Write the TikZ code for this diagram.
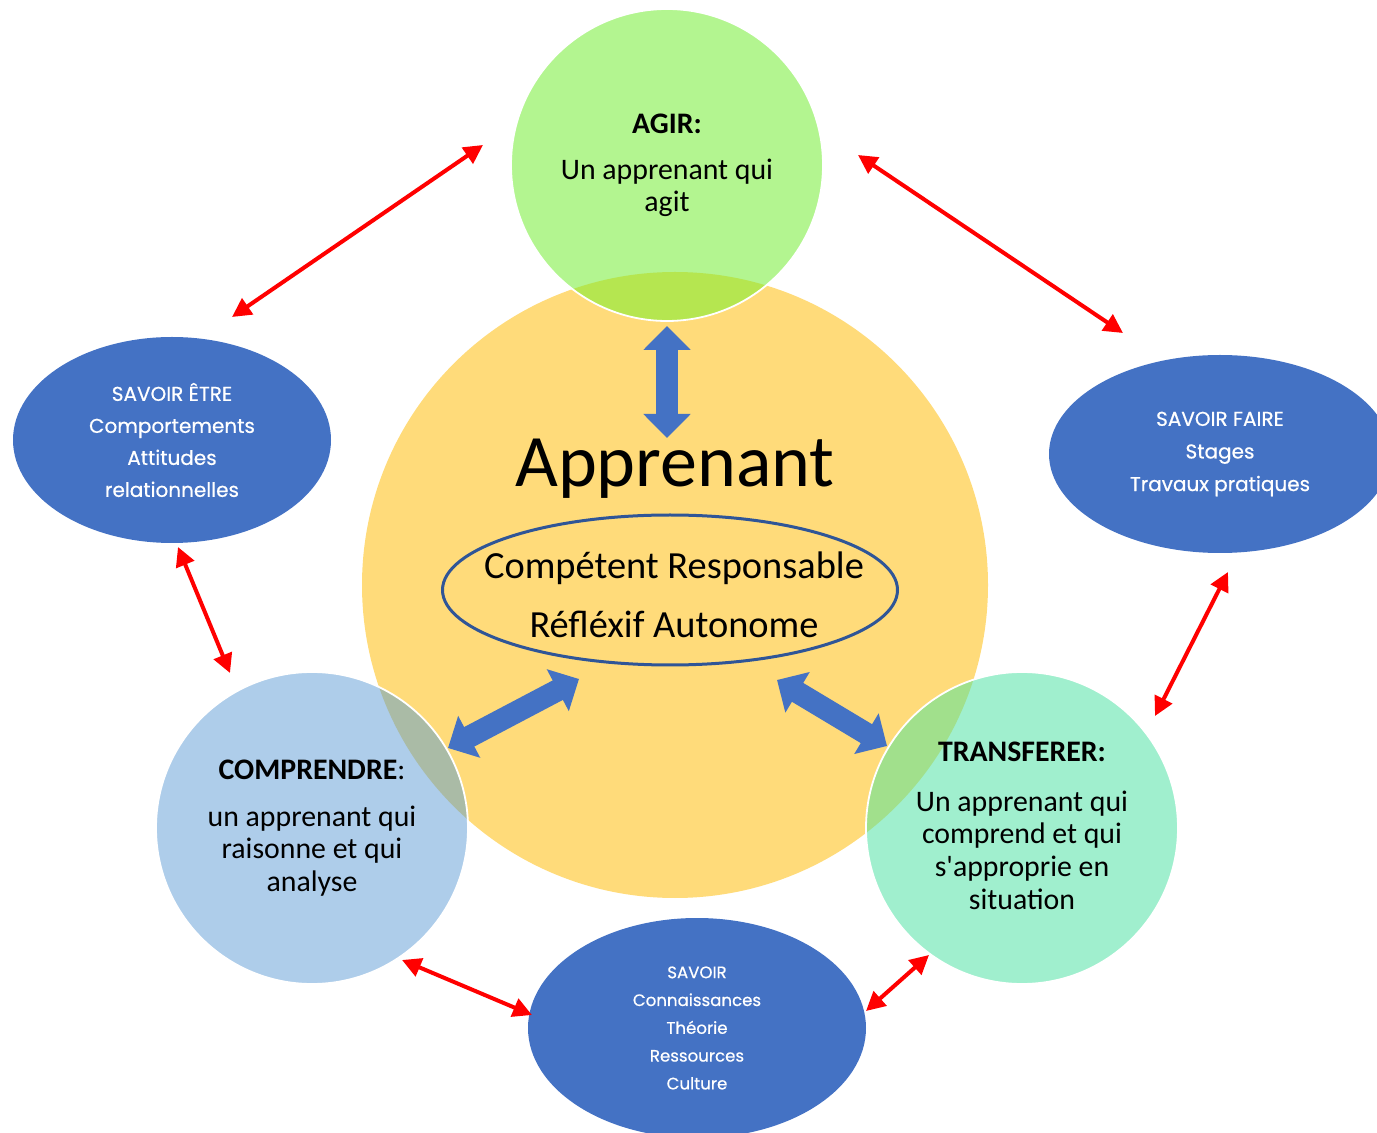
\documentclass[tikz,border=0pt]{standalone}
\usepackage{fontspec}
\setmainfont{Carlito}[Ligatures=TeXOff]
\newfontfamily\comicf{Poppins}[FakeBold=0.6]
\usetikzlibrary{arrows.meta,shapes.geometric}
\definecolor{yel}{HTML}{FFDB7A}
\definecolor{grn}{HTML}{B3F590}
\definecolor{grnov}{HTML}{B5E650}
\definecolor{lblue}{HTML}{AECDEA}
\definecolor{lblueov}{HTML}{AABBA6}
\definecolor{mint}{HTML}{A0EFCE}
\definecolor{mintov}{HTML}{A1E08C}
\definecolor{eblue}{HTML}{4472C4}
\definecolor{ellblue}{HTML}{2F5597}
\definecolor{arrred}{HTML}{FF0000}
\begin{document}
\begin{tikzpicture}[x=0.5pt,y=-0.5pt,
  redarr/.style={draw=arrred, line width=2pt, {Triangle[length=9.5pt,width=9.5pt]}-{Triangle[length=9.5pt,width=9.5pt]}},
  bluearr/.style={draw=eblue, line width=11pt, {Triangle[length=12pt,width=23pt]}-{Triangle[length=12pt,width=23pt]}},
  bigcirc/.style={circle, minimum size=313pt, inner sep=0pt},
  smallcirc/.style={circle, minimum size=156pt, inner sep=0pt},
  savoirell/.style={ellipse, fill=eblue, inner sep=0pt, text=white, align=center},
  ttl/.style={font=\fontsize{14.9}{16}\selectfont\bfseries},
  body/.style={align=center, font=\fontsize{14.9}{16.3}\selectfont}]
\useasboundingbox (0,0) rectangle (1377,1133);
\clip (0,0) rectangle (1377,1133);

% main circles
\node[bigcirc, fill=yel] (yel) at (675,585) {};
\node[smallcirc, fill=grn] (agir) at (667,165) {};
\node[smallcirc, fill=lblue] (comp) at (312,828) {};
\node[smallcirc, fill=mint] (trans) at (1022,828) {};

% overlaps
\begin{scope}
  \clip (agir.center) circle[radius=78pt];
  \fill[grnov] (yel.center) circle[radius=156.5pt];
\end{scope}
\begin{scope}
  \clip (comp.center) circle[radius=78pt];
  \fill[lblueov] (yel.center) circle[radius=156.5pt];
\end{scope}
\begin{scope}
  \clip (trans.center) circle[radius=78pt];
  \fill[mintov] (yel.center) circle[radius=156.5pt];
\end{scope}
\draw[white, line width=0.9pt] (agir.center) circle[radius=78pt];
\draw[white, line width=0.9pt] (comp.center) circle[radius=78pt];
\draw[white, line width=0.9pt] (trans.center) circle[radius=78pt];

% savoir ellipses
\node[savoirell, minimum width=159pt, minimum height=103pt,
  font=\comicf\fontsize{10}{16}\selectfont] (etre) at (172,440)
  {SAVOIR ÊTRE\\Comportements\\Attitudes\\relationnelles};
\node[savoirell, minimum width=171pt, minimum height=99pt,
  font=\comicf\fontsize{10}{16.3}\selectfont] (faire) at (1220,454)
  {SAVOIR FAIRE\\Stages\\Travaux pratiques};
\node[savoirell, minimum width=169pt, minimum height=110pt,
  font=\comicf\fontsize{8.3}{13.9}\selectfont] (savoir) at (697,1028)
  {SAVOIR\\Connaissances\\Théorie\\Ressources\\Culture};

% inner ellipse
\node[ellipse, draw=ellblue, line width=1.5pt, minimum width=227.5pt,
  minimum height=75pt, inner sep=0pt] (qual) at (670,590) {};
\node[align=center, font=\fontsize{19.2}{29.5}\selectfont] (qualT) at (674,595)
  {Compétent Responsable\\Réfléxif Autonome};
\node[font=\fontsize{37}{40}\selectfont] (appr) at (675,469) {Apprenant};

% circle texts
\node[ttl] (agirT) at (667,124) {AGIR:};
\node[body] (agirB) at (667,188) {Un apprenant qui\\agit};
\node[ttl] (compT) at (312,770) {COMPRENDRE\mdseries:};
\node[body] (compB) at (312,851) {un apprenant qui\\raisonne et qui\\analyse};
\node[ttl] (transT) at (1022,752) {TRANSFERER:};
\node[body] (transB) at (1022,850) {Un apprenant qui\\comprend et qui\\s'approprie en\\situation};

% red arrows
\coordinate (r1a) at (483,145); \coordinate (r1b) at (232,317);
\coordinate (r2a) at (858,155); \coordinate (r2b) at (1123,333);
\coordinate (r3a) at (178,547); \coordinate (r3b) at (230,673);
\coordinate (r4a) at (1228,572); \coordinate (r4b) at (1155,716);
\coordinate (r5a) at (402,960); \coordinate (r5b) at (532,1015);
\coordinate (r6a) at (929,955); \coordinate (r6b) at (866,1011);
\draw[redarr] (r1a) -- (r1b);
\draw[redarr] (r2a) -- (r2b);
\draw[redarr] (r3a) -- (r3b);
\draw[redarr] (r4a) -- (r4b);
\draw[redarr] (r5a) -- (r5b);
\draw[redarr] (r6a) -- (r6b);

% blue arrows
\coordinate (b1a) at (667,326); \coordinate (b1b) at (667,438);
\coordinate (b2a) at (448,748); \coordinate (b2b) at (579,679);
\coordinate (b3a) at (777,680); \coordinate (b3b) at (887,746);
\draw[bluearr] (b1a) -- (b1b);
\draw[bluearr] (b2a) -- (b2b);
\draw[bluearr] (b3a) -- (b3b);
\end{tikzpicture}
\end{document}
